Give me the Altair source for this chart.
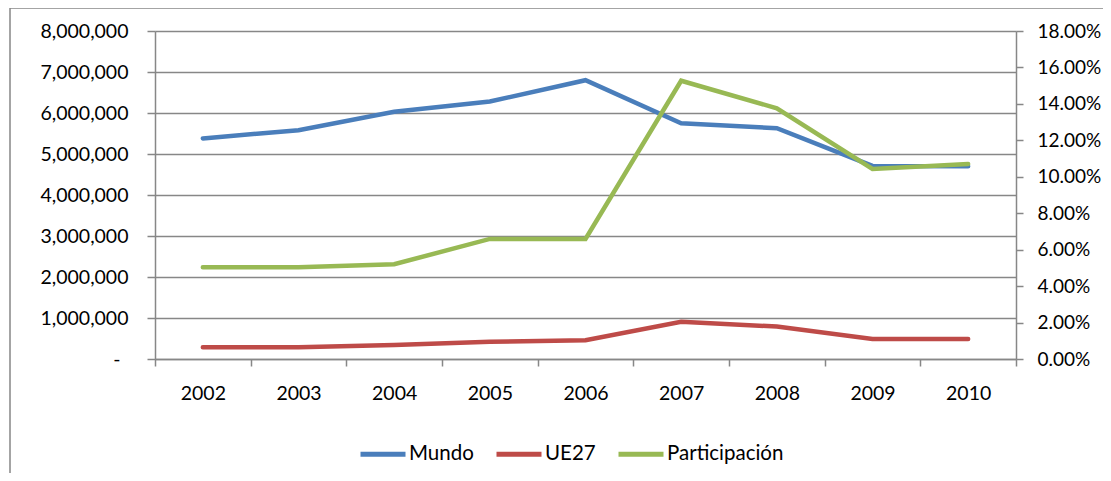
import altair as alt
import pandas as pd

years = ["2002", "2003", "2004", "2005", "2006", "2007", "2008", "2009", "2010"]
mundo = [5380000, 5580000, 6030000, 6280000, 6800000, 5750000, 5630000, 4710000, 4700000]
ue27 = [285000, 285000, 340000, 420000, 460000, 910000, 790000, 490000, 490000]
participacion = [0.0503, 0.0503, 0.052, 0.0659, 0.0659, 0.1527, 0.1376, 0.1043, 0.107]

series = ["Mundo", "UE27", "Participación"]
colors = ["#4A7EBB", "#BE4B48", "#98B954"]
left_ticks = [0, 1000000, 2000000, 3000000, 4000000, 5000000, 6000000, 7000000, 8000000]
right_ticks = [0, 0.02, 0.04, 0.06, 0.08, 0.10, 0.12, 0.14, 0.16, 0.18]

rows = []
for i, y in enumerate(years):
    rows.append({"year": y, "serie": "Mundo", "value": mundo[i]})
    rows.append({"year": y, "serie": "UE27", "value": ue27[i]})
    rows.append({"year": y, "serie": "Participación", "value": participacion[i]})
df = pd.DataFrame(rows)

FONT = "Lato"
FS = 19.5
GRAY = "#878787"

color = alt.Color(
    "serie:N",
    scale=alt.Scale(domain=series, range=colors),
    sort=series,
    legend=alt.Legend(
        title=None,
        orient="none",
        direction="horizontal",
        legendX=203,
        legendY=398,
        symbolType="stroke",
        symbolSize=2025,
        symbolStrokeWidth=5,
        labelOffset=1,
        columnPadding=12,
        labelFont=FONT,
        labelFontSize=20.5,
        labelColor="#000000",
    ),
)

x = alt.X(
    "year:N",
    sort=years,
    scale=alt.Scale(paddingInner=0, paddingOuter=0),
    axis=alt.Axis(
        title=None,
        labelAngle=0,
        tickBand="extent",
        tickSize=7,
        tickColor=GRAY,
        tickWidth=1.5,
        domainColor=GRAY,
        domainWidth=1.5,
        labelPadding=18,
        labelFont=FONT,
        labelFontSize=FS,
        labelColor="#000000",
        grid=False,
    ),
)

frame = alt.Chart(pd.DataFrame({"a": [0]})).mark_rect(
    fill=None, stroke=GRAY, strokeWidth=1.5
).encode(
    x=alt.value(-145), x2=alt.value(975), y=alt.value(-23), y2=alt.value(480)
)

left = alt.Chart(df).transform_filter(
    alt.FieldOneOfPredicate(field="serie", oneOf=["Mundo", "UE27"])
).mark_line(strokeWidth=4.5, strokeCap="round").encode(
    x=x,
    y=alt.Y(
        "value:Q",
        scale=alt.Scale(domain=[0, 8000000], nice=False),
        axis=alt.Axis(
            title=None,
            values=left_ticks,
            labelExpr="datum.value == 0 ? '-' : format(datum.value, ',')",
            grid=True,
            gridColor=GRAY,
            gridWidth=1.5,
            tickSize=8,
            tickColor=GRAY,
            tickWidth=1.5,
            domainColor=GRAY,
            domainWidth=1.5,
            labelPadding={"condition": {"test": "datum.value == 0", "value": 27}, "value": 19},
            labelFont=FONT,
            labelFontSize=FS,
            labelColor="#000000",
        ),
    ),
    color=color,
    detail="serie:N",
)

right = alt.Chart(df).transform_filter(
    alt.FieldEqualPredicate(field="serie", equal="Participación")
).mark_line(strokeWidth=4.5, strokeCap="round").encode(
    x=x,
    y=alt.Y(
        "value:Q",
        scale=alt.Scale(domain=[0, 0.18], nice=False),
        axis=alt.Axis(
            title=None,
            orient="right",
            values=right_ticks,
            format=".2%",
            grid=False,
            tickSize=7,
            tickColor=GRAY,
            tickWidth=1.5,
            domainColor=GRAY,
            domainWidth=1.5,
            labelPadding=14,
            labelFont=FONT,
            labelFontSize=19,
            labelColor="#000000",
        ),
    ),
    color=color,
)

chart = alt.layer(frame, left, right).resolve_scale(y="independent").properties(
    width=861,
    height=328,
    autosize=alt.AutoSizeParams(type="none"),
    padding={"left": 147, "top": 23, "right": 87, "bottom": 114},
).configure_view(stroke=None).configure(background="white")

chart.save("out.html", embed_options={"renderer": "svg", "actions": False})
